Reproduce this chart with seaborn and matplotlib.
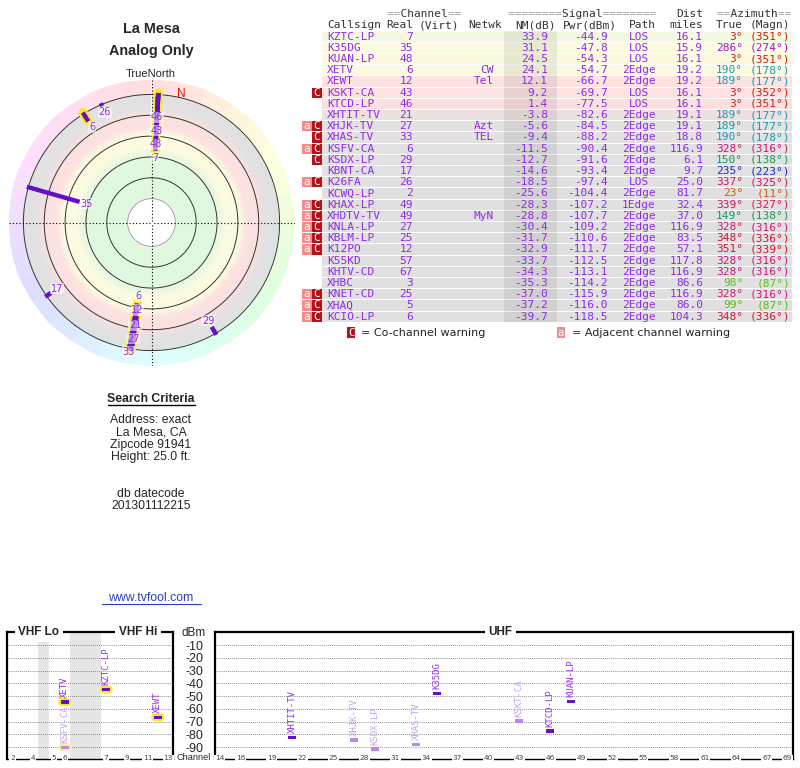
import numpy as np
import pandas as pd
import matplotlib
matplotlib.use("Agg")
import matplotlib.pyplot as plt
from matplotlib.colors import LinearSegmentedColormap, ListedColormap, Normalize, hsv_to_rgb
from matplotlib.patches import Rectangle
import seaborn as sns

# ---- station list ----
callsign = ["KZTC-LP", "K35DG", "KUAN-LP", "XETV", "XEWT", "KSKT-CA", "KTCD-LP",
            "XHTIT-TV", "XHJK-TV", "XHAS-TV", "KSFV-CA", "KSDX-LP", "KBNT-CA",
            "K26FA", "KCWQ-LP", "KHAX-LP", "XHDTV-TV", "KNLA-LP", "KBLM-LP",
            "K12PO", "K55KD", "KHTV-CD", "XHBC", "KNET-CD", "XHAQ", "KCIO-LP"]
real_ch = [7, 35, 48, 6, 12, 43, 46, 21, 27, 33, 6, 29, 17, 26, 2, 49, 49, 27,
           25, 12, 57, 67, 3, 25, 5, 6]
netwk = ["", "", "", "CW", "Tel", "", "", "", "Azt", "TEL", "", "", "", "", "",
         "", "MyN", "", "", "", "", "", "", "", "", ""]
nm_db = [33.9, 31.1, 24.5, 24.1, 12.1, 9.2, 1.4, -3.8, -5.6, -9.4, -11.5, -12.7,
         -14.6, -18.5, -25.6, -28.3, -28.8, -30.4, -31.7, -32.9, -33.7, -34.3,
         -35.3, -37.0, -37.2, -39.7]
pwr_dbm = [-44.9, -47.8, -54.3, -54.7, -66.7, -69.7, -77.5, -82.6, -84.5, -88.2,
           -90.4, -91.6, -93.4, -97.4, -104.4, -107.2, -107.7, -109.2, -110.6,
           -111.7, -112.5, -113.1, -114.2, -115.9, -116.0, -118.5]
path = ["LOS", "LOS", "LOS", "2Edge", "2Edge", "LOS", "LOS", "2Edge", "2Edge",
        "2Edge", "2Edge", "2Edge", "2Edge", "LOS", "2Edge", "1Edge"] + ["2Edge"] * 10
dist_mi = [16.1, 15.9, 16.1, 19.2, 19.2, 16.1, 16.1, 19.1, 19.1, 18.8, 116.9, 6.1,
           9.7, 25.0, 81.7, 32.4, 37.0, 116.9, 83.5, 57.1, 117.8, 116.9, 86.6,
           116.9, 86.0, 104.3]
az_true = [3, 286, 3, 190, 189, 3, 3, 189, 189, 190, 328, 150, 235, 337, 23, 339,
           149, 328, 348, 351, 328, 328, 98, 328, 99, 348]
az_magn = [351, 274, 351, 178, 177, 352, 351, 177, 177, 178, 316, 138, 223, 325,
           11, 327, 138, 316, 336, 339, 316, 316, 87, 316, 87, 336]
warn = ["", "", "", "", "", "C", "", "", "aC", "C", "aC", "C", "", "aC", "", "aC",
        "aC", "aC", "aC", "aC", "", "", "", "aC", "aC", "aC"]

criteria = ["Address: exact", "La Mesa, CA", "Zipcode 91941", "Height: 25.0 ft."]
datecode = "201301112215"
dbm_ticks = [-10, -20, -30, -40, -50, -60, -70, -80, -90]
vhf_tick_ch = [2, 4, 5, 6, 7, 9, 11, 13]
uhf_tick_ch = [14, 16, 19, 22, 25, 28, 31, 34, 37, 40, 43, 46, 49, 52, 55, 58, 61, 64, 67, 69]

df = pd.DataFrame({"call": callsign, "ch": real_ch, "net": netwk, "nm": nm_db,
                   "pwr": pwr_dbm, "path": path, "dist": dist_mi, "az": az_true,
                   "magn": az_magn, "warn": warn})
df["kind"] = np.where(df["warn"] == "", "clear", "warn")

# ---- styling ----
sns.set_style("white")
plt.rcParams["font.family"] = ["DejaVu Sans"]
plt.rcParams["axes.unicode_minus"] = False
MONO = ["DejaVu Sans Mono"]
SANS = ["Liberation Sans", "DejaVu Sans"]
PURPLE = "#8f2be6"
BAR = "#6410c8"
LIGHT_BAR = "#b58be4"
LIGHT_TXT = "#c7a2ef"
YELLOW = "#f7e81c"

# signal-margin colour ramp (grey -> pink -> yellow -> green)
nm_cmap = LinearSegmentedColormap.from_list("nm", [
    (0.00, "#e0e0e0"), (0.28, "#e3e1e1"), (0.34, "#fbe0e0"), (0.46, "#fde2e2"),
    (0.52, "#fbfae0"), (0.65, "#fbfbe0"), (0.69, "#f0f8e0"), (0.76, "#e0f8e0"),
    (1.00, "#e0f8e0")])
nm_norm = Normalize(-34, 66)


def az_color(a, s=0.88):
    h = a / 360.0 % 1.0
    v = 0.8 - 0.2 * np.exp(-((h - 0.42) / 0.12) ** 2)
    return hsv_to_rgb([h, s, v])


fig = plt.figure(figsize=(8, 7.68), dpi=100)

# overlay in pixel units for text and the table
ax0 = fig.add_axes([0, 0, 1, 1])
ax0.set_xlim(0, 800)
ax0.set_ylim(768, 0)
ax0.axis("off")

# ---- left column text ----
ax0.text(151, 29, "La Mesa", ha="center", va="center", fontsize=10.4,
         fontweight="bold", family=SANS)
ax0.text(151, 51, "Analog Only", ha="center", va="center", fontsize=10.4,
         fontweight="bold", family=SANS)
ax0.text(151, 74, "TrueNorth", ha="center", va="center", fontsize=8, family=SANS)
ax0.text(151, 399, "Search Criteria", ha="center", va="center", fontsize=8.8,
         fontweight="bold", family=SANS)
ax0.plot([108, 195], [405, 405], color="black", lw=1)
for i, line in enumerate(criteria):
    ax0.text(151, 420 + i * 12.3, line, ha="center", va="center", fontsize=8.8, family=SANS)
ax0.text(151, 494, "db datecode", ha="center", va="center", fontsize=8.8, family=SANS)
ax0.text(151, 506, datecode, ha="center", va="center", fontsize=8.8, family=SANS)
ax0.text(151, 598, "www.tvfool.com", ha="center", va="center", fontsize=8.8,
         family=SANS, color="#2a3fc4")
ax0.plot([102, 201], [603.5, 603.5], color="#2a3fc4", lw=0.8)

# ---- table ----
Y0, RH = 36.7, 11.2
HDR = "#333333"
EQ = "#a0a0a0"
fs = 8


def mono(x, y, s, ha="left", color=PURPLE):
    ax0.text(x, y, s, ha=ha, va="center", fontsize=fs, family=MONO, color=color)


mono(387, 14, "==       ==", color=EQ)
mono(387, 14, "  Channel  ", color=HDR)
mono(508, 14, "========      ========", color=EQ)
mono(508, 14, "        Signal        ", color=HDR)
mono(703, 14, "Dist", ha="right", color=HDR)
mono(717, 14, "==       ==", color=EQ)
mono(717, 14, "  Azimuth  ", color=HDR)
mono(327, 25, "Callsign", color=HDR)
mono(413, 25, "Real", ha="right", color=HDR)
mono(419, 25, "(Virt)", color=HDR)
mono(468, 25, "Netwk", color=HDR)
mono(556, 25, "NM(dB)", ha="right", color=HDR)
mono(563, 25, "Pwr(dBm)", color=HDR)
mono(629, 25, "Path", color=HDR)
mono(703, 25, "miles", ha="right", color=HDR)
mono(743, 25, "True", ha="right", color=HDR)
mono(790, 25, "(Magn)", ha="right", color=HDR)

for i, r in df.iterrows():
    yc = Y0 + i * RH
    ax0.add_patch(Rectangle((322, yc - RH / 2 + 0.5), 470, RH - 1,
                            facecolor=nm_cmap(nm_norm(r.nm)), lw=0))
    mono(327, yc, r.call)
    mono(413, yc, str(r.ch), ha="right")
    mono(494, yc, r.net, ha="right")
    mono(548, yc, f"{r.nm:.1f}", ha="right")
    mono(608, yc, f"{r.pwr:.1f}", ha="right")
    mono(639, yc, r.path, ha="center")
    mono(703, yc, f"{r.dist:.1f}", ha="right")
    mono(743, yc, f"{r.az}°", ha="right", color=az_color(r.az))
    mono(790, yc, f"({r.magn}°)", ha="right", color=az_color(r.az))
    if "C" in r.warn:
        ax0.add_patch(Rectangle((311.5, yc - RH / 2 + 0.5), 10, RH - 1,
                                facecolor="#b3121b", lw=0))
        ax0.text(316.5, yc, "C", ha="center", va="center", fontsize=fs,
                 family=MONO, color="white")
    if "a" in r.warn:
        ax0.add_patch(Rectangle((302, yc - RH / 2 + 0.5), 9.5, RH - 1,
                                facecolor="#f28b8b", lw=0))
        ax0.text(306.8, yc, "a", ha="center", va="center", fontsize=fs,
                 family=MONO, color="white")

# darker band behind the NM column
ax0.add_patch(Rectangle((504, Y0 - RH / 2), 53, RH * len(df), facecolor="black",
                        alpha=0.07, lw=0))

# legend under the table
ax0.add_patch(Rectangle((347, 327), 8, 11, facecolor="#b3121b", lw=0))
ax0.text(351, 332.5, "C", ha="center", va="center", fontsize=7.5, family=MONO, color="white")
ax0.text(361, 333, "= Co-channel warning", va="center", fontsize=8, color="#222222")
ax0.add_patch(Rectangle((557, 327), 7.5, 11, facecolor="#f28b8b", lw=0))
ax0.text(560.8, 332.5, "a", ha="center", va="center", fontsize=7.5, family=MONO, color="white")
ax0.text(572, 333, "= Adjacent channel warning", va="center", fontsize=8, color="#222222")

# ---- polar direction plot ----
CX, CY, RAD = 151.5, 222.5, 143
NM_CENTER, NM_EDGE = 102.9, -34.3
PX_PER_DB = RAD / (NM_CENTER - NM_EDGE)
pax = fig.add_axes([(CX - RAD) / 800, (768 - CY - RAD) / 768, 2 * RAD / 800, 2 * RAD / 768],
                   projection="polar")
pax.set_theta_zero_location("N")
pax.set_theta_direction(-1)

th_e = np.linspace(0, 2 * np.pi, 361)
r_e = np.linspace(-20, 80, 201)
r_mid = (r_e[:-1] + r_e[1:]) / 2
pax.pcolormesh(th_e, r_e, np.tile(r_mid[:, None], (1, 360)), cmap=nm_cmap,
               norm=nm_norm, shading="flat")

n_sec = 32
sec_e = np.linspace(0, 2 * np.pi, n_sec + 1)
sec_az = np.degrees((sec_e[:-1] + sec_e[1:]) / 2)
ring_cmap = ListedColormap([hsv_to_rgb([a / 360.0, 0.13, 1.0]) for a in sec_az])
pax.pcolormesh(sec_e, [NM_EDGE, -20], np.arange(n_sec)[None, :], cmap=ring_cmap,
               vmin=-0.5, vmax=n_sec - 0.5, shading="flat")

circ = np.linspace(0, 2 * np.pi, 400)
for lev in [-20, 0, 20, 40, 60]:
    pax.plot(circ, np.full_like(circ, lev), color="#333333", lw=0.7, zorder=2)
pax.plot(circ, np.full_like(circ, 80), color="#9a9a9a", lw=0.6, zorder=2)
for a in [0, 90, 180, 270]:
    pax.plot([np.radians(a)] * 2, [NM_EDGE, NM_CENTER], color="black", lw=0.8,
             ls=(0, (1, 2)), zorder=2)

seen = df[df["nm"] >= -20].sort_values("nm")
for _, r in seen.iterrows():
    th = np.radians(r.az)
    if r.ch <= 13:
        pax.plot([th, th], [-21.5, r.nm], color=YELLOW, lw=6.5,
                 solid_capstyle="round", zorder=3)
for _, r in seen.iterrows():
    th = np.radians(r.az)
    pax.plot([th, th], [-21.5, r.nm], color=BAR, lw=3.2,
             solid_capstyle="butt", zorder=4)

# labels: just inside each bar end, pushed outward when they would collide
last_px = {}
for _, r in seen.sort_values("nm", ascending=False).iterrows():
    key = round(r.az / 6)
    want = (NM_CENTER - r.nm) * PX_PER_DB - 7
    px = max(want, last_px.get(key, -99) + 13.5)
    last_px[key] = px
    pax.text(np.radians(r.az), NM_CENTER - px / PX_PER_DB, str(r.ch), ha="center",
             va="center", fontsize=7, color=PURPLE, zorder=5,
             bbox=dict(facecolor="white", alpha=0.55, edgecolor="none", pad=0.4))
pax.text(np.radians(13), -23.5, "N", ha="center", va="center", fontsize=8.5,
         color="#dd1111", family=SANS, zorder=5)

pax.grid(False)
pax.set_xticks([])
pax.set_yticks([])
pax.spines["polar"].set_visible(False)
pax.set_ylim(NM_CENTER, NM_EDGE)

# ---- spectrum panels ----
TOP, BOT = 632.3, 758.5
VL, VR = 7.3, 173.3
UL, UR = 214.8, 792.7
ax_v = fig.add_axes([VL / 800, (768 - BOT) / 768, (VR - VL) / 800, (BOT - TOP) / 768])
ax_u = fig.add_axes([UL / 800, (768 - BOT) / 768, (UR - UL) / 800, (BOT - TOP) / 768])

# VHF frequency axis: compress the 88-174 MHz gap
VHF_MHZ = [54, 72, 76, 88, 174, 216]
VHF_PX = [0, 31, 41.7, 62.6, 93.7, 166]
ax_v.set_xscale("function", functions=(lambda f: np.interp(f, VHF_MHZ, VHF_PX),
                                       lambda u: np.interp(u, VHF_PX, VHF_MHZ)))


def ch_mhz(ch):
    ch = np.asarray(ch, dtype=float)
    return np.where(ch <= 4, 57 + 6 * (ch - 2),
                    np.where(ch <= 6, 79 + 6 * (ch - 5), 177 + 6 * (ch - 7)))


spec = df[df["nm"] > -13].copy()
spec["x"] = np.where(spec["ch"] <= 13, ch_mhz(spec["ch"]), spec["ch"])
spec_v = spec[spec["ch"] <= 13]
spec_u = spec[spec["ch"] > 13]

rect = [(-1, -0.42), (1, -0.42), (1, 0.42), (-1, 0.42), (-1, -0.42)]
t = np.linspace(-np.pi / 2, np.pi / 2, 10)
cap = np.column_stack([0.4 + 0.6 * np.cos(t), 0.6 * np.sin(t)])
stadium = np.vstack([cap, -cap, cap[:1]])

ax_v.axvspan(72, 76, color="#e6e6e6", lw=0, zorder=0.2)
ax_v.axvspan(88, 174, color="#e6e6e6", lw=0, zorder=0.2)

sns.scatterplot(data=spec_v, x="x", y="pwr", hue="kind", marker=stadium, s=88,
                palette={"clear": YELLOW, "warn": "#f6f0a6"}, linewidth=0,
                legend=False, ax=ax_v, zorder=3)
for ax, d in [(ax_v, spec_v), (ax_u, spec_u)]:
    sns.scatterplot(data=d, x="x", y="pwr", hue="kind", marker=rect, s=33,
                    palette={"clear": BAR, "warn": LIGHT_BAR}, linewidth=0,
                    legend=False, ax=ax, zorder=4)
    for _, r in d.iterrows():
        ax.text(r.x, r.pwr + 3.5, r.call, rotation=90, ha="center", va="bottom",
                fontsize=6.5, family=MONO, zorder=5,
                color=LIGHT_TXT if r.kind == "warn" else "#9a30e8")

ax_v.set_xlim(54, 216)
ax_u.set_xlim(13.5, 69.5)
for ax, ticks, pos in [(ax_v, vhf_tick_ch, ch_mhz(vhf_tick_ch)),
                       (ax_u, uhf_tick_ch, uhf_tick_ch)]:
    ax.set_ylim(-99, 0)
    ax.set_xlabel("")
    ax.set_ylabel("")
    ax.set_xticks([])
    ax.set_yticks(dbm_ticks)
    ax.grid(axis="y", color="#666666", lw=0.6, ls=(0, (1, 1.5)))
    ax.set_facecolor("white")
    for side in ["left", "right", "top"]:
        ax.spines[side].set_color("black")
        ax.spines[side].set_linewidth(1.6)
    ax.spines["bottom"].set_color("black")
    ax.spines["bottom"].set_linewidth(1.0)
    for c, p in zip(ticks, pos):
        ax.text(p, 0, str(c), transform=ax.get_xaxis_transform(), ha="center",
                va="center", fontsize=5.3, color="#444444", zorder=6,
                bbox=dict(facecolor="white", edgecolor="none", pad=0.6))

ax_u.tick_params(axis="y", length=0, labelleft=False)
ax_v.yaxis.tick_right()
ax_v.tick_params(axis="y", length=0, pad=8.6, labelsize=9)
for lab in ax_v.get_yticklabels():
    lab.set_fontfamily(SANS)

for ax, x, s in [(ax_v, 0.19, "VHF Lo"), (ax_v, 0.787, "VHF Hi"), (ax_u, 0.494, "UHF")]:
    ax.text(x, 1.0, s, transform=ax.transAxes, ha="center", va="center",
            fontsize=8.5, fontweight="bold", family=SANS, zorder=7,
            bbox=dict(facecolor="white", edgecolor="none", pad=2.5))

ax0.text(194, 632.5, "dBm", ha="center", va="center", fontsize=8.5, family=SANS)
ax0.text(194, 758, "Channel", ha="center", va="center", fontsize=6.6, family=SANS)

fig.savefig("out.png", dpi=100)
